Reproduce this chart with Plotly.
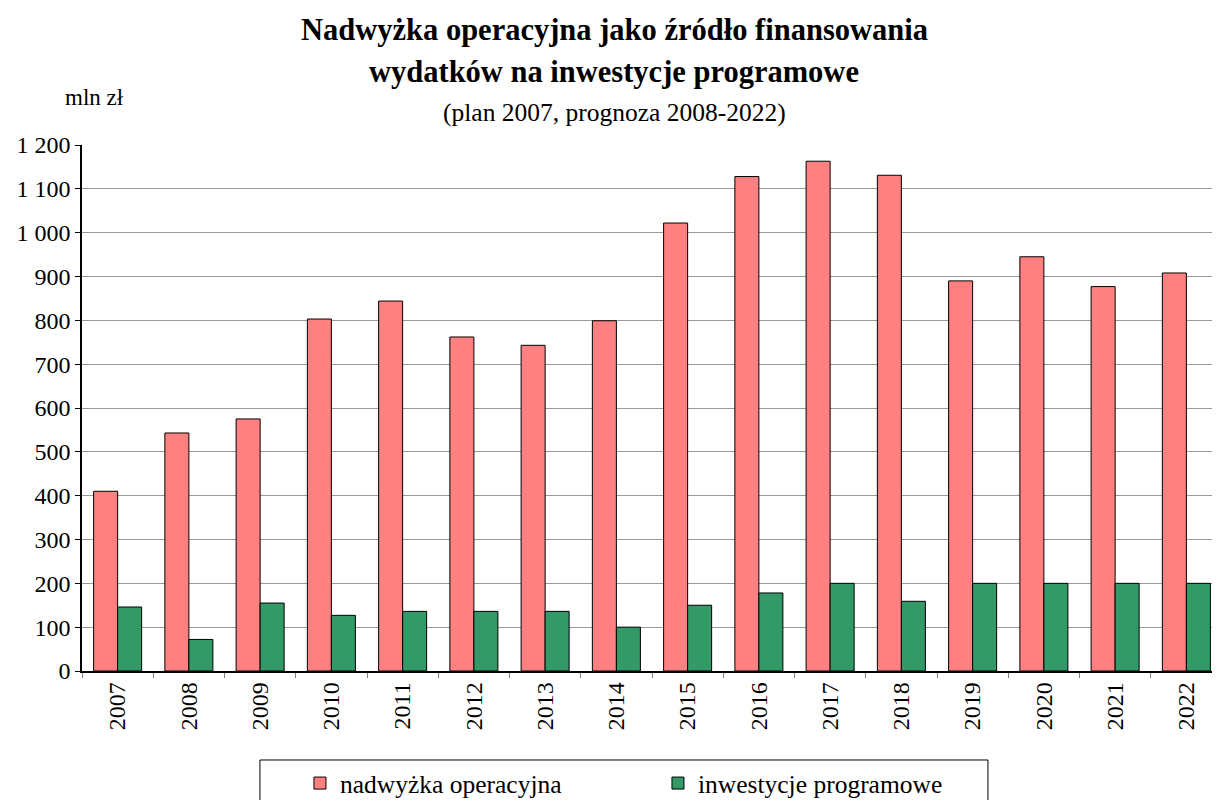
import plotly.graph_objects as go

years = ["2007", "2008", "2009", "2010", "2011", "2012", "2013", "2014",
         "2015", "2016", "2017", "2018", "2019", "2020", "2021", "2022"]
nadwyzka = [410, 543, 575, 803, 844, 762, 743, 799, 1022, 1128, 1163, 1131, 890, 945, 877, 908]
inwestycje = [146, 72, 155, 127, 136, 136, 136, 100, 150, 178, 200, 159, 200, 200, 200, 200]
y_ticks = [0, 100, 200, 300, 400, 500, 600, 700, 800, 900, 1000, 1100, 1200]

FONT = "Liberation Serif"

fig = go.Figure()
fig.add_trace(go.Bar(x=years, y=nadwyzka, name="nadwyżka operacyjna",
                     marker=dict(color="#FF8080", line=dict(color="#000000", width=1))))
fig.add_trace(go.Bar(x=years, y=inwestycje, name="inwestycje programowe",
                     marker=dict(color="#339966", line=dict(color="#000000", width=1))))

fig.update_layout(
    width=1220, height=800,
    margin=dict(l=74, r=6, t=137, b=137, autoexpand=False),
    paper_bgcolor="white", plot_bgcolor="white",
    barmode="group", bargap=0.326, bargroupgap=0,
    separators=", ",
    font=dict(family=FONT, color="black", size=22),
    showlegend=True,
    legend=dict(orientation="h", xref="paper", x=0.1912, xanchor="left",
                yref="paper", y=-0.1692, yanchor="top",
                borderwidth=0, font=dict(family=FONT, size=25.5),
                entrywidth=313, itemwidth=30, bgcolor="rgba(0,0,0,0)"),
)
fig.update_xaxes(type="category", showline=True, linecolor="black", linewidth=1.5,
                 ticks="outside", tickson="boundaries", ticklen=5, tickcolor="#808080",
                 tickangle=-90, tickfont=dict(family=FONT, size=24), showgrid=False,
                 automargin=False)
fig.update_yaxes(range=[0, 1200], tickvals=y_ticks, tickformat=",d",
                 showline=True, linecolor="black", linewidth=1.5,
                 ticks="outside", ticklen=5, tickcolor="black",
                 showgrid=True, gridcolor="#999999", gridwidth=1,
                 tickfont=dict(family=FONT, size=24), zeroline=False, automargin=False)

# legend frame
fig.add_shape(type="rect", xref="paper", yref="paper",
              x0=0.1561, x1=0.7947, y0=-0.27, y1=-0.1692,
              line=dict(color="black", width=1), fillcolor="rgba(0,0,0,0)", layer="above")

fig.add_annotation(text="<b>Nadwyżka operacyjna jako źródło finansowania</b>",
                   xref="paper", yref="paper", x=0.4667, y=1.2186, xanchor="center", yanchor="middle",
                   showarrow=False, font=dict(family=FONT, size=30.5))
fig.add_annotation(text="<b>wydatków na inwestycje programowe</b>",
                   xref="paper", yref="paper", x=0.4667, y=1.139, xanchor="center", yanchor="middle",
                   showarrow=False, font=dict(family=FONT, size=30.5))
fig.add_annotation(text="(plan 2007, prognoza 2008-2022)",
                   xref="paper", yref="paper", x=0.4667, y=1.061, xanchor="center", yanchor="middle",
                   showarrow=False, font=dict(family=FONT, size=25.5))
fig.add_annotation(text="mln zł",
                   xref="paper", yref="paper", x=0.0114, y=1.091, xanchor="center", yanchor="middle",
                   showarrow=False, font=dict(family=FONT, size=23))

fig.write_html("out.html")
